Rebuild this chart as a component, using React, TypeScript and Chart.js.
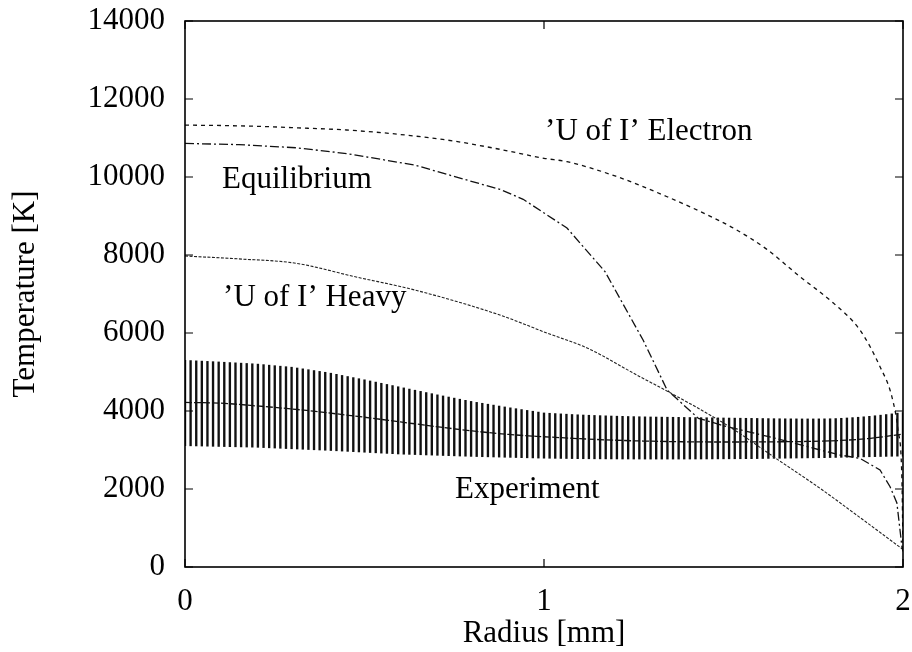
import React, { useEffect, useRef } from "react";
import { Chart, registerables } from "chart.js";

Chart.register(...registerables);

const FONT = '"Liberation Serif", "Times New Roman", Times, serif';

// Experiment error bars (radius in mm, lower / upper temperature in K)
const expRadius = [
  0, 0.0156, 0.0313, 0.0469, 0.0625, 0.0781, 0.0938, 0.1094, 0.125, 0.1406, 0.1563, 0.1719, 0.1875,
  0.2031, 0.2188, 0.2344, 0.25, 0.2656, 0.2813, 0.2969, 0.3125, 0.3281, 0.3438, 0.3594, 0.375, 0.3906,
  0.4063, 0.4219, 0.4375, 0.4531, 0.4688, 0.4844, 0.5, 0.5156, 0.5313, 0.5469, 0.5625, 0.5781, 0.5938,
  0.6094, 0.625, 0.6406, 0.6563, 0.6719, 0.6875, 0.7031, 0.7188, 0.7344, 0.75, 0.7656, 0.7813, 0.7969,
  0.8125, 0.8281, 0.8438, 0.8594, 0.875, 0.8906, 0.9063, 0.9219, 0.9375, 0.9531, 0.9688, 0.9844, 1,
  1.0156, 1.0313, 1.0469, 1.0625, 1.0781, 1.0938, 1.1094, 1.125, 1.1406, 1.1563, 1.1719, 1.1875,
  1.2031, 1.2188, 1.2344, 1.25, 1.2656, 1.2813, 1.2969, 1.3125, 1.3281, 1.3438, 1.3594, 1.375, 1.3906,
  1.4063, 1.4219, 1.4375, 1.4531, 1.4688, 1.4844, 1.5, 1.5156, 1.5313, 1.5469, 1.5625, 1.5781, 1.5938,
  1.6094, 1.625, 1.6406, 1.6563, 1.6719, 1.6875, 1.7031, 1.7188, 1.7344, 1.75, 1.7656, 1.7813, 1.7969,
  1.8125, 1.8281, 1.8438, 1.8594, 1.875, 1.8906, 1.9063, 1.9219, 1.9375, 1.9531, 1.9688, 1.9844, 2,
];
const expHigh = [
  5300, 5293, 5286, 5279, 5272, 5265, 5258,
  5250, 5242, 5235, 5227, 5219, 5211,
  5202, 5189, 5175, 5162, 5149, 5136, 5123,
  5102, 5081, 5059, 5037, 5015, 4993,
  4969, 4941, 4912, 4884, 4856, 4828, 4800,
  4770, 4741, 4711, 4681, 4652, 4622,
  4592, 4562, 4533, 4503, 4473, 4444,
  4414, 4386, 4358, 4330, 4302, 4274, 4246,
  4221, 4198, 4174, 4151, 4127, 4104,
  4081, 4059, 4037, 4015, 3994, 3972, 3950,
  3942, 3934, 3926, 3918, 3910, 3903,
  3897, 3891, 3886, 3881, 3876, 3871,
  3867, 3863, 3859, 3856, 3853, 3850, 3847,
  3845, 3843, 3841, 3839, 3837, 3835,
  3833, 3831, 3829, 3827, 3825, 3823, 3821,
  3819, 3817, 3815, 3813, 3811, 3809,
  3807, 3805, 3803, 3801, 3800, 3799,
  3798, 3797, 3797, 3797, 3798, 3799, 3801,
  3806, 3813, 3821, 3830, 3840, 3851,
  3864, 3878, 3893, 3909, 3926, 3944, 3962,
];
const expLow = [
  3110, 3107, 3104, 3101, 3098, 3094, 3091, 3088, 3085, 3082, 3079, 3076, 3073,
  3069, 3062, 3056, 3050, 3044, 3037, 3031, 3025, 3019, 3012, 3006, 3000, 2994,
  2987, 2980, 2972, 2965, 2958, 2950, 2943, 2935, 2928, 2920, 2913, 2906, 2898,
  2892, 2888, 2883, 2878, 2873, 2869, 2864, 2859, 2855, 2850, 2845, 2841, 2836,
  2832, 2828, 2825, 2821, 2818, 2814, 2811, 2807, 2804, 2800, 2797, 2793, 2790,
  2788, 2786, 2784, 2782, 2780, 2778, 2776, 2775, 2774, 2773, 2772, 2771,
  2770, 2769, 2769, 2768, 2768, 2767, 2767, 2767, 2767, 2767, 2767, 2767, 2768,
  2768, 2769, 2769, 2770, 2771, 2772, 2773, 2774, 2775, 2776, 2777, 2778, 2780,
  2782, 2784, 2786, 2788, 2790, 2792, 2794, 2796, 2798, 2800, 2802, 2804, 2806,
  2809, 2812, 2815, 2818, 2821, 2824, 2827, 2830, 2833, 2836, 2839, 2842, 2845,
];

// Experiment mean line
const expLineR = [0, 0.1, 0.2, 0.3, 0.4, 0.5, 0.6, 0.7, 0.8, 0.9, 1.0, 1.1, 1.2, 1.3, 1.4, 1.5, 1.6, 1.7, 1.8, 1.9, 2.0];
const expLineT = [4220, 4200, 4130, 4050, 3950, 3840, 3720, 3600, 3490, 3400, 3340, 3290, 3250, 3225, 3210, 3205, 3208, 3215, 3235, 3290, 3410];

// 'U of I' Electron
const elecR = [0, 0.1, 0.2, 0.3, 0.45, 0.6, 0.75, 0.877, 1.0, 1.064, 1.2, 1.343, 1.45, 1.527, 1.62, 1.713, 1.806, 1.88, 1.936, 1.969, 1.986, 1.997, 2.0];
const elecT = [11330, 11320, 11300, 11265, 11205, 11090, 10920, 10710, 10480, 10392, 10020, 9494, 9050, 8692, 8150, 7444, 6768, 6077, 5136, 4367, 3513, 2231, 450];

// Equilibrium
const equilR = [0, 0.15, 0.31, 0.45, 0.64, 0.774, 0.877, 0.942, 1.064, 1.17, 1.276, 1.343, 1.43, 1.509, 1.65, 1.769, 1.824, 1.88, 1.936, 1.964, 1.983, 1.997, 2.0];
const equilT = [10860, 10830, 10750, 10600, 10307, 9950, 9684, 9428, 8692, 7572, 5820, 4538, 3812, 3600, 3290, 3000, 2872, 2786, 2487, 2059, 1641, 520, 400];

// 'U of I' Heavy
const heavyR = [0, 0.15, 0.31, 0.47, 0.64, 0.877, 1.01, 1.12, 1.267, 1.346, 1.509, 1.65, 1.769, 1.88, 2.0];
const heavyT = [7974, 7900, 7787, 7450, 7102, 6461, 5992, 5615, 4880, 4495, 3641, 2760, 2017, 1270, 450];

// Axis ticks
const xTicks = [0, 1, 2];
const yTicks = [0, 2000, 4000, 6000, 8000, 10000, 12000, 14000];

// Curve labels (data coordinates of text's left baseline)
const curveLabels = [
  { text: "\u2019U of I\u2019 Electron", x: 1.003, y: 10950 },
  { text: "Equilibrium", x: 0.103, y: 9720 },
  { text: "\u2019U of I\u2019 Heavy", x: 0.106, y: 6690 },
  { text: "Experiment", x: 0.752, y: 1780 },
];

const pts = (xs: number[], ys: number[]) => xs.map((x, i) => ({ x, y: ys[i] }));

const framePlugin = {
  id: "frame",
  afterDatasetsDraw(chart: any) {
    const { ctx, chartArea: a, scales } = chart;
    const xs = scales.x;
    const ys = scales.y;
    ctx.save();
    ctx.strokeStyle = "#000";
    ctx.lineWidth = 1.2;
    const L = 8;
    ctx.beginPath();
    yTicks.forEach((v) => {
      const py = ys.getPixelForValue(v);
      ctx.moveTo(a.left, py);
      ctx.lineTo(a.left + L, py);
      ctx.moveTo(a.right, py);
      ctx.lineTo(a.right - L, py);
    });
    xTicks.forEach((v) => {
      const px = xs.getPixelForValue(v);
      ctx.moveTo(px, a.bottom);
      ctx.lineTo(px, a.bottom - L);
      ctx.moveTo(px, a.top);
      ctx.lineTo(px, a.top + L);
    });
    ctx.stroke();
    ctx.lineWidth = 1.6;
    ctx.strokeRect(a.left, a.top, a.right - a.left, a.bottom - a.top);
    ctx.fillStyle = "#000";
    ctx.font = `31px ${FONT}`;
    ctx.textAlign = "left";
    ctx.textBaseline = "alphabetic";
    curveLabels.forEach((l) => {
      ctx.fillText(l.text, xs.getPixelForValue(l.x), ys.getPixelForValue(l.y));
    });
    ctx.restore();
  },
};

const zeroPad = (s: any) => {
  s.paddingTop = 0;
  s.paddingBottom = 0;
  s.paddingLeft = 0;
  s.paddingRight = 0;
};

export default function App() {
  const ref = useRef<HTMLCanvasElement>(null);
  useEffect(() => {
    document.body.style.margin = "0";
    const canvas = ref.current!;
    const tickFont = { family: FONT, size: 31 };
    const chart = new Chart(canvas, {
      type: "line",
      data: {
        datasets: [
          {
            type: "line",
            label: "'U of I' Electron",
            data: pts(elecR, elecT),
            borderColor: "#111",
            borderWidth: 1.3,
            borderDash: [4, 4],
            pointRadius: 0,
            fill: false,
            cubicInterpolationMode: "monotone",
          },
          {
            type: "line",
            label: "Equilibrium",
            data: pts(equilR, equilT),
            borderColor: "#111",
            borderWidth: 1.3,
            borderDash: [9, 3, 2, 3],
            pointRadius: 0,
            fill: false,
            tension: 0,
          },
          {
            type: "line",
            label: "'U of I' Heavy",
            data: pts(heavyR, heavyT),
            borderColor: "#222",
            borderWidth: 1.1,
            borderDash: [3, 1.5],
            pointRadius: 0,
            fill: false,
            cubicInterpolationMode: "monotone",
          },
          {
            type: "line",
            label: "Experiment",
            data: pts(expLineR, expLineT),
            borderColor: "#111",
            borderWidth: 1.3,
            borderDash: [7, 2],
            pointRadius: 0,
            fill: false,
            cubicInterpolationMode: "monotone",
          },
          {
            type: "bar",
            label: "Experiment error",
            data: expRadius.map((x, i) => ({ x, y: [expLow[i], expHigh[i]] })) as any,
            backgroundColor: "#111",
            borderWidth: 0,
            barThickness: 1.7,
          },
        ] as any,
      },
      options: {
        animation: false,
        responsive: false,
        events: [],
        layout: { padding: { left: 0, right: 9, top: 21, bottom: 0 } },
        plugins: { legend: { display: false }, tooltip: { enabled: false } },
        scales: {
          x: {
            type: "linear",
            min: 0,
            max: 2,
            offset: false,
            grid: { display: false, drawTicks: false },
            border: { display: false },
            afterBuildTicks: (s: any) => {
              s.ticks = xTicks.map((v) => ({ value: v }));
            },
            ticks: {
              color: "#000",
              font: tickFont,
              padding: 16,
              maxRotation: 0,
              autoSkip: false,
              callback: (v: any) => String(v),
            },
            title: {
              display: true,
              text: "Radius [mm]",
              color: "#000",
              font: tickFont,
              padding: { top: 0, bottom: 0 },
            },
            afterFit: (s: any) => {
              s.height = 85;
              zeroPad(s);
            },
          },
          y: {
            type: "linear",
            min: 0,
            max: 14000,
            grid: { display: false, drawTicks: false },
            border: { display: false },
            afterBuildTicks: (s: any) => {
              s.ticks = yTicks.map((v) => ({ value: v }));
            },
            ticks: {
              color: "#000",
              font: tickFont,
              padding: 20,
              callback: (v: any) => String(v),
            },
            title: {
              display: true,
              text: "Temperature [K]",
              color: "#000",
              font: tickFont,
              padding: { top: 7, bottom: 0 },
            },
            afterFit: (s: any) => {
              s.width = 185;
              zeroPad(s);
            },
          },
        },
      } as any,
      plugins: [framePlugin],
    });
    return () => chart.destroy();
  }, []);
  return (
    <div style={{ position: "fixed", left: 0, top: 0, width: 912, height: 652, background: "#fff" }}>
      <canvas ref={ref} width={912} height={652} style={{ display: "block" }} />
    </div>
  );
}
